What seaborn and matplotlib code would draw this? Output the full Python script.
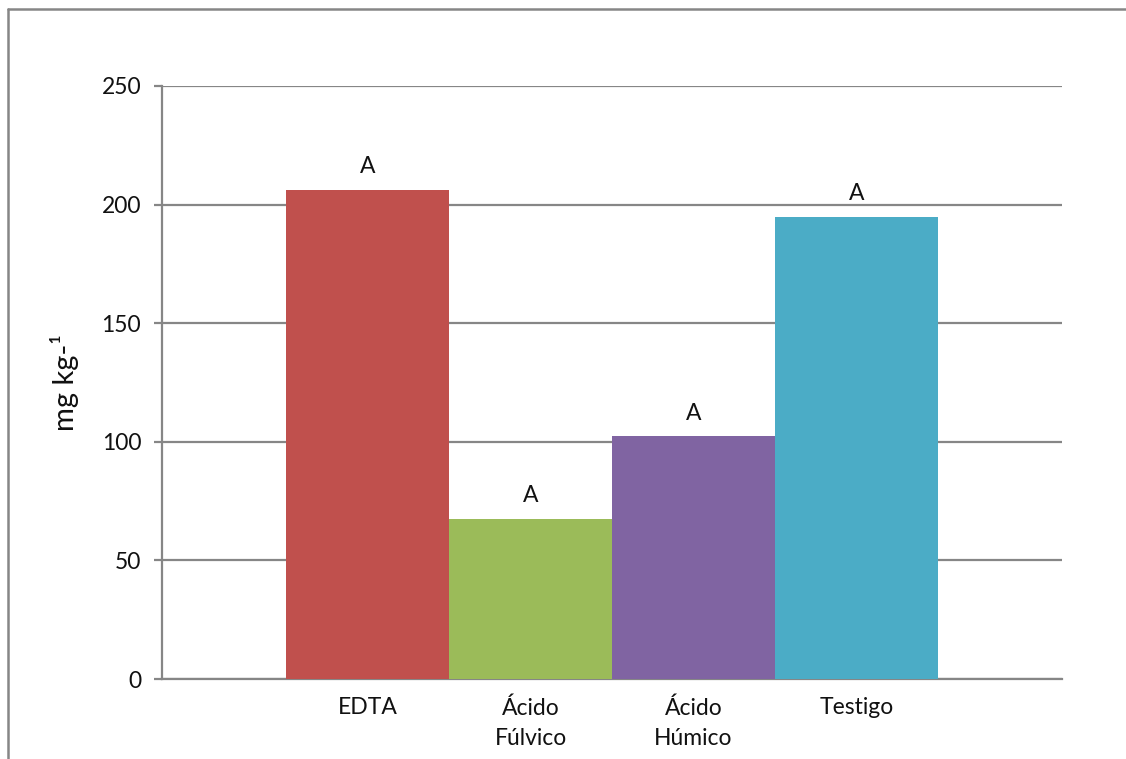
import matplotlib
matplotlib.use("Agg")
import matplotlib.pyplot as plt
from matplotlib.lines import Line2D
import seaborn as sns
import pandas as pd

# Treatments and measured concentrations (mg kg-1)
categories = ["EDTA", "Ácido\nFúlvico", "Ácido\nHúmico", "Testigo"]
values = [206.2, 67.5, 102.4, 194.8]
letters = ["A", "A", "A", "A"]
colors = ["#C0504D", "#9BBB59", "#8064A2", "#4BACC6"]
yticks = [0, 50, 100, 150, 200, 250]

sns.set_theme(style="white")
plt.rcParams["font.family"] = ["Lato", "DejaVu Sans"]

grey = "#868686"
text_col = "#111111"

fig = plt.figure(figsize=(11.26, 7.59), dpi=100)
ax = fig.add_axes([0.1439, 0.1054, 0.7993, 0.7813])

df = pd.DataFrame({"trat": categories, "val": values})
sns.barplot(data=df, x="trat", y="val", hue="trat", palette=colors,
            width=1.0, saturation=1.0, legend=False, ax=ax, zorder=3,
            linewidth=0)

ax.set_ylim(0, 250)
ax.set_xlim(-1.261, 4.261)
ax.set_yticks(yticks)
ax.set_yticklabels([str(t) for t in yticks], fontsize=16.5, color=text_col)
ax.yaxis.grid(True, color=grey, linewidth=1.6, zorder=0)
ax.set_axisbelow(True)

for side in ["top", "right"]:
    ax.spines[side].set_visible(False)
for side in ["left", "bottom"]:
    ax.spines[side].set_color(grey)
    ax.spines[side].set_linewidth(1.6)

ax.tick_params(axis="y", which="major", left=True, length=6, width=1.6,
               color=grey, pad=9)
ax.tick_params(axis="x", bottom=False, pad=7)
ax.set_xticks(range(len(categories)))
ax.set_xticklabels(categories, fontsize=16.5, color=text_col, linespacing=1.55,
                   va="top")

ax.set_xlabel("")
ax.set_ylabel("mg kg-¹", fontsize=21, color=text_col, labelpad=16)

# Significance letters above each bar
for i, (v, letter) in enumerate(zip(values, letters)):
    ax.annotate(letter, xy=(i, v), xytext=(0, 9), textcoords="offset points",
                ha="center", va="bottom", fontsize=16.5, color=text_col)

# Chart frame (left and top edges)
fig.add_artist(Line2D([8 / 1126, 8 / 1126], [0, 1 - 9 / 759],
                      transform=fig.transFigure, color=grey, linewidth=1.8))
fig.add_artist(Line2D([8 / 1126, 1], [1 - 9 / 759, 1 - 9 / 759],
                      transform=fig.transFigure, color=grey, linewidth=1.8))

fig.savefig("out.png", dpi=100)
